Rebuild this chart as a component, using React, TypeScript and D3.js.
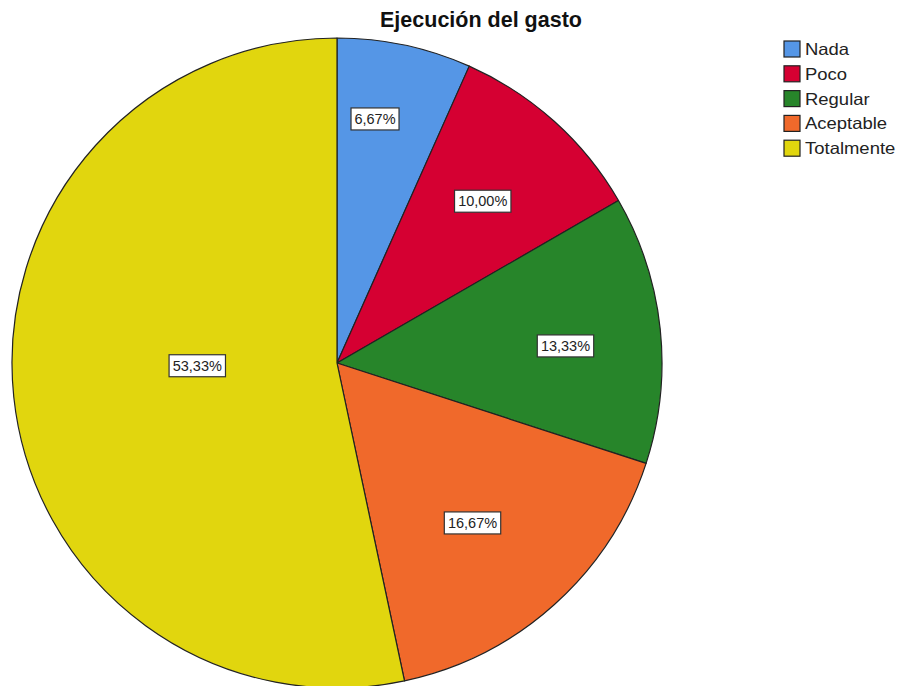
import React from "react";
import * as d3 from "d3";

const categories = ["Nada", "Poco", "Regular", "Aceptable", "Totalmente"];
const percents = [6.67, 10.0, 13.33, 16.67, 53.33];
const labels = ["6,67%", "10,00%", "13,33%", "16,67%", "53,33%"];
const colors = ["#5596E6", "#D50032", "#27852A", "#F0692B", "#E1D60E"];
const labelRadiusFactor = [0.76, 0.67, 0.705, 0.645, 0.43];
const labelAngleShift = [-0.055, 0, 0.03, 0.03, 0.085];

export default function App() {
  const W = 899, H = 686;
  const cx = 337, cy = 363, R = 325;
  const pie = d3.pie<number>().value((d) => d).sort(null);
  const arcs = pie(percents);
  const arc = d3.arc<d3.PieArcDatum<number>>().innerRadius(0).outerRadius(R);
  return (
    <svg width={W} height={H} style={{ position: "absolute", left: 0, top: 0 }} fontFamily="'Liberation Sans', Arial, sans-serif">
      <rect width={W} height={H} fill="#fff" />
      <text x={481} y={27} textAnchor="middle" fontSize={21.5} fontWeight="bold" fill="#111">Ejecución del gasto</text>
      <g transform={`translate(${cx},${cy})`}>
        {arcs.map((a, i) => (
          <path key={i} d={arc(a) || ""} fill={colors[i]} stroke="#222" strokeWidth={1.2} strokeLinejoin="round" />
        ))}
        {arcs.map((a, i) => {
          const mid = (a.startAngle + a.endAngle) / 2 + labelAngleShift[i];
          const r = R * labelRadiusFactor[i];
          const x = Math.sin(mid) * r;
          const y = -Math.cos(mid) * r;
          const w = labels[i].length * 8.4 + 6;
          return (
            <g key={"l" + i} transform={`translate(${x},${y})`}>
              <rect x={-w / 2} y={-11} width={w} height={22} fill="#fff" stroke="#333" strokeWidth={1.2} />
              <text x={0} y={5} textAnchor="middle" fontSize={14.5} fill="#222">{labels[i]}</text>
            </g>
          );
        })}
      </g>
      <g>
        {categories.map((c, i) => (
          <g key={c} transform={`translate(784,${41 + i * 24.8})`}>
            <rect x={0} y={0} width={16} height={16} fill={colors[i]} stroke="#222" strokeWidth={1.2} />
            <text transform="translate(21,14) scale(1.12,1)" fontSize={16.5} fill="#222">{c}</text>
          </g>
        ))}
      </g>
    </svg>
  );
}
